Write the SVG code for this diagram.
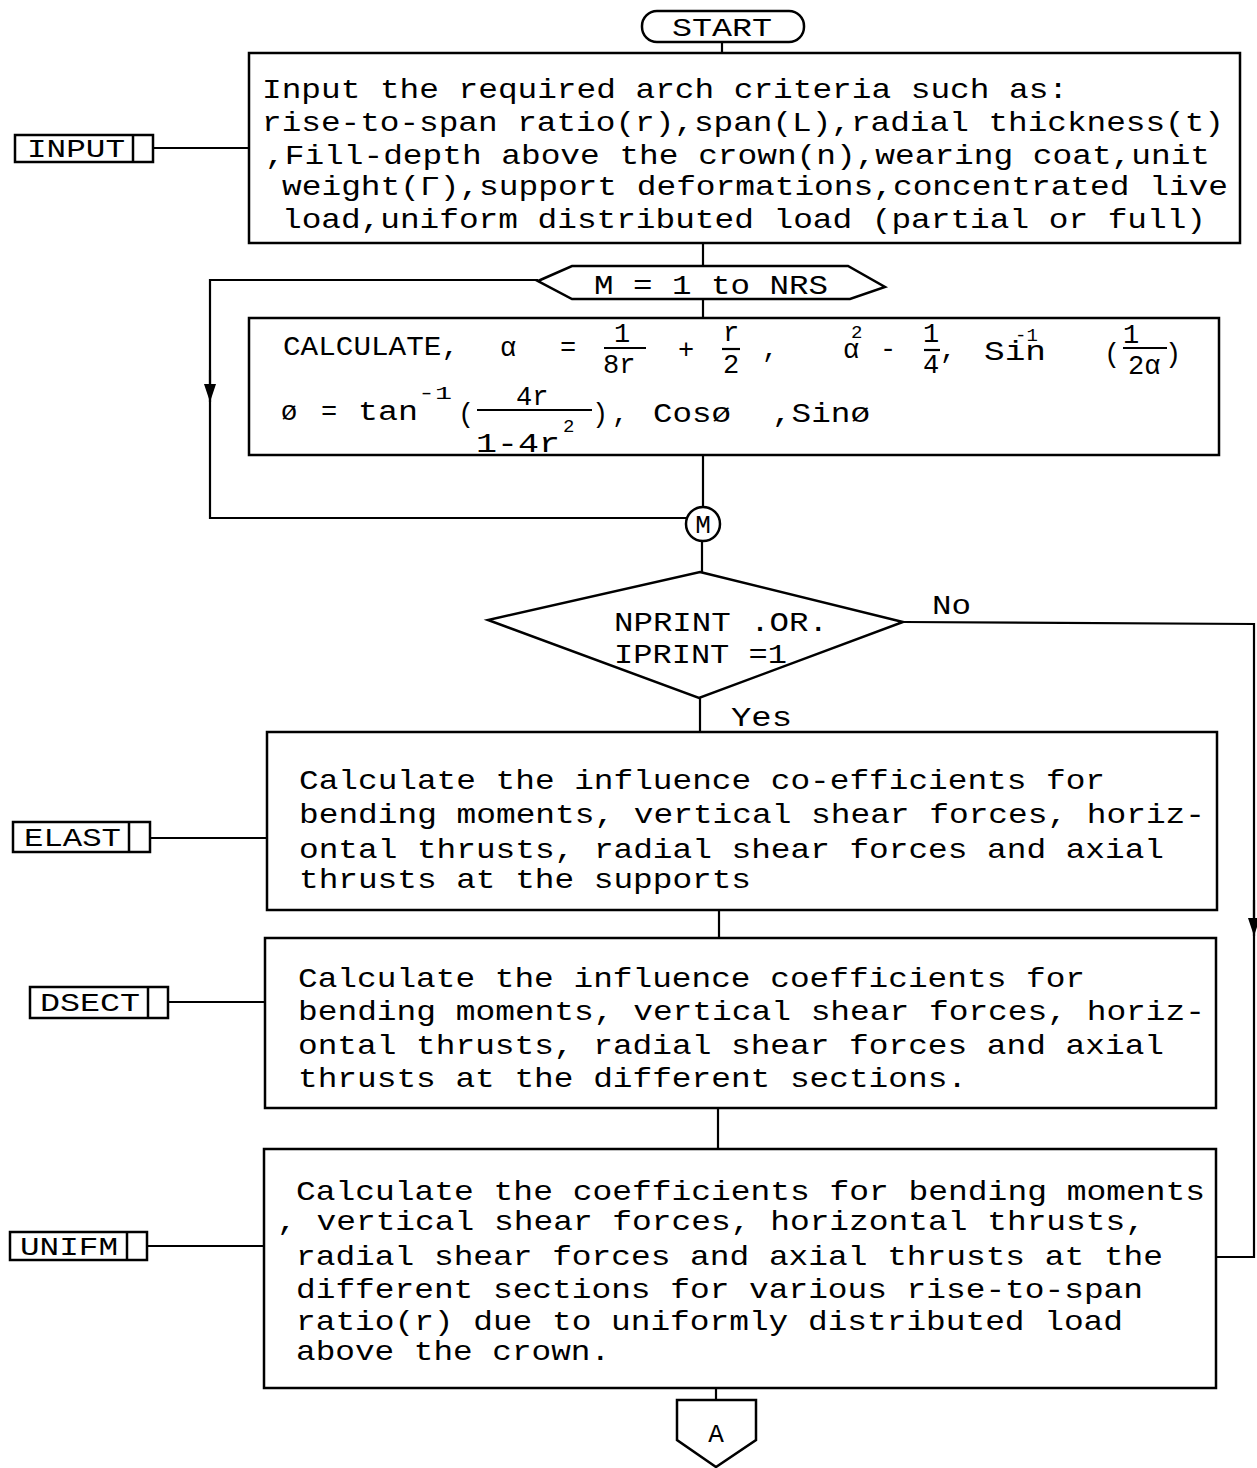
<svg xmlns="http://www.w3.org/2000/svg" width="1257" height="1468" viewBox="0 0 1257 1468">
<defs>
<style>
.bx{fill:none;stroke:#000;stroke-width:2.5}
.ln{fill:none;stroke:#000;stroke-width:2.2}
.t{font-family:"Liberation Mono","DejaVu Sans Mono",monospace;font-size:28px;fill:#000}
.c{font-family:"Liberation Mono","DejaVu Sans Mono",monospace;font-size:27px;fill:#000}
.s{font-family:"Liberation Mono","DejaVu Sans Mono",monospace;font-size:19px;fill:#000}
.lb{font-family:"Liberation Mono","DejaVu Sans Mono",monospace;font-size:26px;fill:#000}
</style>
<marker id="ah" viewBox="0 0 18 12" refX="18" refY="6" markerWidth="18" markerHeight="12" orient="auto" markerUnits="userSpaceOnUse">
<path d="M0,0 L18,6 L0,12 Z" fill="#000"/>
</marker>
</defs>
<rect width="1257" height="1468" fill="#fff"/>

<g id="connectors">
<line class="ln" x1="722" y1="42" x2="722" y2="53"/>
<line class="ln" x1="153" y1="148" x2="249" y2="148"/>
<line class="ln" x1="703" y1="243" x2="703" y2="266"/>
<line class="ln" x1="703" y1="300" x2="703" y2="318"/>
<polyline class="ln" points="538,280 210,280 210,518 686,518"/>
<line class="ln" x1="210" y1="370" x2="210" y2="402" marker-end="url(#ah)"/>
<line class="ln" x1="703" y1="455" x2="703" y2="507"/>
<line class="ln" x1="702" y1="541" x2="702" y2="572"/>
<polyline class="ln" points="903,622 1254,624 1254,1257 1216,1257"/>
<line class="ln" x1="1254" y1="900" x2="1254" y2="936" marker-end="url(#ah)"/>
<line class="ln" x1="700" y1="698" x2="700" y2="733"/>
<line class="ln" x1="150" y1="838" x2="267" y2="838"/>
<line class="ln" x1="719" y1="910" x2="719" y2="938"/>
<line class="ln" x1="168" y1="1002" x2="265" y2="1002"/>
<line class="ln" x1="718" y1="1108" x2="718" y2="1149"/>
<line class="ln" x1="147" y1="1246" x2="264" y2="1246"/>
<line class="ln" x1="716" y1="1388" x2="716" y2="1400"/>
</g>

<g id="start">
<rect class="bx" x="642" y="11" width="162" height="31" rx="15" ry="15"/>
<text class="lb" x="672" y="36" textLength="100" lengthAdjust="spacingAndGlyphs">START</text>
</g>

<g id="input-label">
<rect class="bx" x="15" y="135" width="138" height="27"/>
<line class="bx" x1="133" y1="135" x2="133" y2="162"/>
<text class="lb" x="27" y="157" textLength="98" lengthAdjust="spacingAndGlyphs">INPUT</text>
</g>

<g id="input">
<rect class="bx" x="249" y="53" width="991" height="190"/>
<text class="t" x="262" y="98" textLength="806" lengthAdjust="spacingAndGlyphs">Input the required arch criteria such as:</text>
<text class="t" x="262" y="131" textLength="962" lengthAdjust="spacingAndGlyphs">rise-to-span ratio(r),span(L),radial thickness(t)</text>
<text class="t" x="265" y="164" textLength="945" lengthAdjust="spacingAndGlyphs">,Fill-depth above the crown(n),wearing coat,unit</text>
<text class="t" x="282" y="195" textLength="946" lengthAdjust="spacingAndGlyphs">weight(Γ),support deformations,concentrated live</text>
<text class="t" x="282" y="228" textLength="924" lengthAdjust="spacingAndGlyphs">load,uniform distributed load (partial or full)</text>
</g>

<g id="loop">
<polygon class="bx" points="538,281 572,266 848,266 885,287 850,299 572,299"/>
<text class="t" x="594" y="294" textLength="234" lengthAdjust="spacingAndGlyphs">M = 1 to NRS</text>
</g>

<g id="calculate">
<rect class="bx" x="249" y="318" width="970" height="137"/>
<text class="c" x="283" y="355" textLength="176" lengthAdjust="spacingAndGlyphs">CALCULATE,</text>
<text class="c" x="500" y="356">α</text>
<text class="c" x="560" y="356">=</text>
<text class="c" x="614" y="342">1</text>
<line class="ln" x1="604" y1="348" x2="646" y2="348"/>
<text class="c" x="603" y="373">8r</text>
<text class="c" x="678" y="358">+</text>
<text class="c" x="723" y="341">r</text>
<line class="ln" x1="722" y1="349" x2="740" y2="349"/>
<text class="c" x="723" y="373">2</text>
<text class="c" x="762" y="357">,</text>
<text class="c" x="843" y="358"><tspan class="s" x="851" y="338">2</tspan><tspan x="843" y="358">α</tspan></text>
<text class="c" x="880" y="357">-</text>
<text class="c" x="923" y="342">1</text>
<line class="ln" x1="924" y1="350" x2="940" y2="350"/>
<text class="c" x="923" y="373">4</text>
<text class="c" x="940" y="358">,</text>
<text class="c" x="984" y="360"><tspan textLength="62" lengthAdjust="spacingAndGlyphs">Sin</tspan><tspan class="s" x="1015" y="341">-1</tspan></text>
<text class="c" x="1104" y="362">(</text>
<text class="c" x="1123" y="343">1</text>
<line class="ln" x1="1123" y1="348" x2="1167" y2="348"/>
<text class="c" x="1128" y="374">2α</text>
<text class="c" x="1165" y="362">)</text>
<text class="c" x="281" y="420">ø</text>
<text class="c" x="321" y="420">=</text>
<text class="c" x="358" y="420" textLength="60" lengthAdjust="spacingAndGlyphs">tan</text>
<text class="s" x="418" y="399" textLength="34" lengthAdjust="spacingAndGlyphs">-1</text>
<text class="c" x="458" y="422">(</text>
<text class="c" x="516" y="405">4r</text>
<line class="ln" x1="477" y1="410" x2="592" y2="410"/>
<text class="c" x="476" y="452" textLength="84" lengthAdjust="spacingAndGlyphs">1-4r</text>
<text class="s" x="563" y="432">2</text>
<text class="c" x="592" y="422">)</text>
<text class="c" x="612" y="422">,</text>
<text class="c" x="653" y="422" textLength="78" lengthAdjust="spacingAndGlyphs">Cosø</text>
<text class="c" x="772" y="422" textLength="98" lengthAdjust="spacingAndGlyphs">,Sinø</text>
</g>

<g id="connector-m">
<circle class="bx" cx="703" cy="524" r="17"/>
<text class="lb" x="703" y="533" text-anchor="middle" font-size="24">M</text>
</g>

<g id="decision">
<polygon class="bx" points="700,572 903,622 699,698 488,620"/>
<text class="t" x="614" y="631" textLength="214" lengthAdjust="spacingAndGlyphs">NPRINT .OR.</text>
<text class="t" x="614" y="663" textLength="173" lengthAdjust="spacingAndGlyphs">IPRINT =1</text>
<text class="t" x="932" y="614" textLength="39" lengthAdjust="spacingAndGlyphs">No</text>
<text class="t" x="731" y="726" textLength="61" lengthAdjust="spacingAndGlyphs">Yes</text>
</g>

<g id="elast-label">
<rect class="bx" x="13" y="822" width="137" height="30"/>
<line class="bx" x1="129" y1="822" x2="129" y2="852"/>
<text class="lb" x="24" y="846" textLength="97" lengthAdjust="spacingAndGlyphs">ELAST</text>
</g>

<g id="elast">
<rect class="bx" x="267" y="732" width="950" height="178"/>
<text class="t" x="299" y="789" textLength="806" lengthAdjust="spacingAndGlyphs">Calculate the influence co-efficients for</text>
<text class="t" x="299" y="823" textLength="906" lengthAdjust="spacingAndGlyphs">bending moments, vertical shear forces, horiz-</text>
<text class="t" x="299" y="858" textLength="865" lengthAdjust="spacingAndGlyphs">ontal thrusts, radial shear forces and axial</text>
<text class="t" x="299" y="888" textLength="452" lengthAdjust="spacingAndGlyphs">thrusts at the supports</text>
</g>

<g id="dsect-label">
<rect class="bx" x="30" y="987" width="138" height="31"/>
<line class="bx" x1="148" y1="987" x2="148" y2="1018"/>
<text class="lb" x="40" y="1011" textLength="100" lengthAdjust="spacingAndGlyphs">DSECT</text>
</g>

<g id="dsect">
<rect class="bx" x="265" y="938" width="951" height="170"/>
<text class="t" x="298" y="987" textLength="787" lengthAdjust="spacingAndGlyphs">Calculate the influence coefficients for</text>
<text class="t" x="298" y="1020" textLength="907" lengthAdjust="spacingAndGlyphs">bending moments, vertical shear forces, horiz-</text>
<text class="t" x="298" y="1054" textLength="866" lengthAdjust="spacingAndGlyphs">ontal thrusts, radial shear forces and axial</text>
<text class="t" x="298" y="1087" textLength="669" lengthAdjust="spacingAndGlyphs">thrusts at the different sections.</text>
</g>

<g id="unifm-label">
<rect class="bx" x="10" y="1232" width="137" height="28"/>
<line class="bx" x1="127" y1="1232" x2="127" y2="1260"/>
<text class="lb" x="20" y="1255" textLength="98" lengthAdjust="spacingAndGlyphs">UNIFM</text>
</g>

<g id="unifm">
<rect class="bx" x="264" y="1149" width="952" height="239"/>
<text class="t" x="296" y="1200" textLength="909" lengthAdjust="spacingAndGlyphs">Calculate the coefficients for bending moments</text>
<text class="t" x="277" y="1230" textLength="868" lengthAdjust="spacingAndGlyphs">, vertical shear forces, horizontal thrusts,</text>
<text class="t" x="296" y="1265" textLength="867" lengthAdjust="spacingAndGlyphs">radial shear forces and axial thrusts at the</text>
<text class="t" x="296" y="1298" textLength="847" lengthAdjust="spacingAndGlyphs">different sections for various rise-to-span</text>
<text class="t" x="296" y="1330" textLength="827" lengthAdjust="spacingAndGlyphs">ratio(r) due to uniformly distributed load</text>
<text class="t" x="296" y="1360" textLength="314" lengthAdjust="spacingAndGlyphs">above the crown.</text>
</g>

<g id="offpage-a">
<polygon class="bx" points="677,1400 756,1400 756,1440 716,1467 677,1440"/>
<text class="lb" x="716" y="1442" text-anchor="middle" font-size="24">A</text>
</g>
</svg>
